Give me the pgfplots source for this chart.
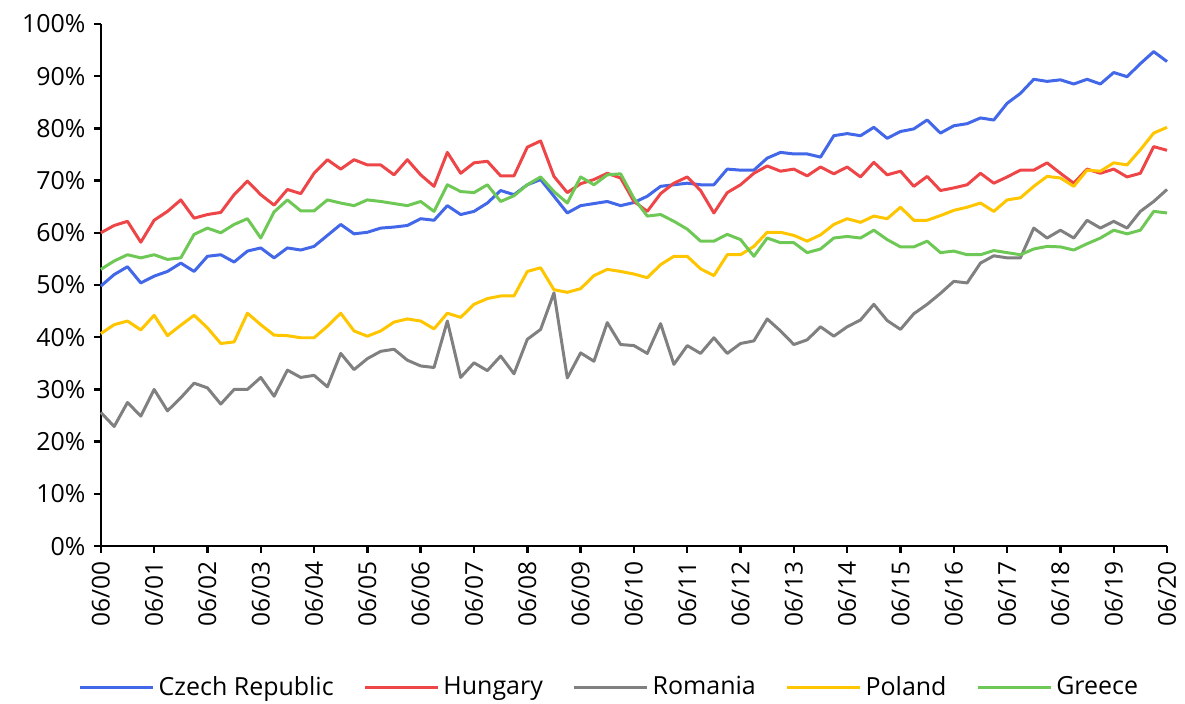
\documentclass[border=0pt]{standalone}
\usepackage{pgfplots}
\pgfplotsset{compat=1.18}
\usepackage{pgfplotstable}
\usepackage{fontspec}
\setmainfont{Open Sans}
\definecolor{czc}{RGB}{66,103,232}
\definecolor{huc}{RGB}{238,70,72}
\definecolor{roc}{RGB}{128,128,128}
\definecolor{plc}{RGB}{255,198,0}
\definecolor{grc}{RGB}{110,200,85}
\pgfplotstableread{
q cz hu ro pl gr
0 49.8 60.0 25.6 40.7 53.0
1 52.0 61.4 22.9 42.4 54.6
2 53.5 62.2 27.5 43.1 55.8
3 50.4 58.2 24.9 41.4 55.2
4 51.7 62.4 30.0 44.2 55.8
5 52.6 64.1 25.9 40.3 54.9
6 54.2 66.3 28.4 42.3 55.2
7 52.6 62.8 31.2 44.2 59.7
8 55.5 63.5 30.3 41.8 60.9
9 55.8 63.9 27.2 38.8 60.0
10 54.4 67.3 30.0 39.1 61.6
11 56.5 69.9 30.0 44.6 62.7
12 57.1 67.3 32.3 42.4 59.0
13 55.2 65.3 28.7 40.4 64.0
14 57.1 68.3 33.7 40.3 66.3
15 56.7 67.5 32.3 39.9 64.2
16 57.4 71.4 32.7 39.9 64.2
17 59.5 74.0 30.5 42.1 66.3
18 61.6 72.2 36.9 44.6 65.7
19 59.8 74.0 33.8 41.2 65.2
20 60.1 73.0 35.9 40.2 66.3
21 60.9 73.0 37.3 41.2 66.0
22 61.1 71.1 37.7 42.9 65.6
23 61.4 74.0 35.6 43.5 65.2
24 62.7 71.1 34.5 43.1 66.0
25 62.4 68.9 34.2 41.6 64.1
26 65.2 75.4 43.1 44.6 69.2
27 63.5 71.4 32.3 43.8 67.9
28 64.1 73.4 35.1 46.3 67.7
29 65.7 73.7 33.6 47.4 69.2
30 68.1 70.9 36.4 47.9 66.0
31 67.3 70.9 33.0 47.9 67.1
32 69.2 76.4 39.6 52.6 69.2
33 70.2 77.6 41.5 53.3 70.7
34 67.0 70.8 48.5 49.1 67.9
35 63.8 67.7 32.2 48.6 65.7
36 65.2 69.4 37.0 49.3 70.7
37 65.6 70.2 35.4 51.8 69.2
38 66.0 71.4 42.8 53.0 71.1
39 65.2 70.5 38.6 52.6 71.3
40 65.8 66.0 38.4 52.1 66.6
41 67.0 64.1 36.9 51.4 63.2
42 68.9 67.5 42.6 53.9 63.5
43 69.2 69.5 34.8 55.5 62.2
44 69.5 70.7 38.4 55.5 60.7
45 69.2 68.1 36.9 53.1 58.4
46 69.2 63.8 39.9 51.8 58.4
47 72.2 67.7 36.9 55.8 59.7
48 72.0 69.2 38.8 55.8 58.7
49 72.0 71.4 39.3 57.4 55.5
50 74.3 72.8 43.5 60.1 59.0
51 75.4 71.8 41.2 60.1 58.1
52 75.1 72.2 38.6 59.5 58.1
53 75.1 70.9 39.5 58.4 56.2
54 74.5 72.6 42.0 59.6 56.9
55 78.6 71.3 40.2 61.6 59.0
56 79.0 72.6 42.0 62.7 59.3
57 78.6 70.7 43.3 62.0 59.0
58 80.2 73.5 46.3 63.2 60.5
59 78.1 71.1 43.2 62.7 58.7
60 79.4 71.8 41.5 64.9 57.3
61 79.9 68.9 44.5 62.4 57.3
62 81.6 70.8 46.3 62.4 58.4
63 79.1 68.1 48.4 63.3 56.2
64 80.5 68.6 50.7 64.3 56.5
65 80.9 69.2 50.4 64.9 55.8
66 82.0 71.4 54.2 65.7 55.8
67 81.6 69.5 55.6 64.1 56.6
68 84.8 70.7 55.2 66.3 56.2
69 86.7 72.0 55.2 66.7 55.8
70 89.4 72.0 60.9 68.9 56.9
71 89.0 73.4 59.0 70.8 57.4
72 89.3 71.4 60.5 70.5 57.3
73 88.5 69.5 59.0 68.9 56.7
74 89.4 72.2 62.4 72.0 57.9
75 88.5 71.4 60.9 71.8 59.0
76 90.7 72.2 62.2 73.4 60.5
77 89.9 70.7 60.9 73.0 59.8
78 92.4 71.4 64.1 75.9 60.5
79 94.7 76.5 66.0 79.1 64.1
80 92.8 75.8 68.3 80.2 63.8
}\data
\begin{document}
\begin{tikzpicture}
\path[use as bounding box] (-50.5pt,-79pt) rectangle (543pt,273.5pt);
\begin{axis}[
  at={(0pt,0pt)}, anchor=south west,
  scale only axis, width=534pt, height=261.5pt,
  xmin=0, xmax=80, ymin=0, ymax=100,
  axis x line*=bottom, axis y line*=left,
  axis line style={line width=1.2pt, -},
  xtick={0,4,...,80},
  xticklabels={06/00,06/01,06/02,06/03,06/04,06/05,06/06,06/07,06/08,06/09,06/10,06/11,06/12,06/13,06/14,06/15,06/16,06/17,06/18,06/19,06/20},
  ytick={0,10,...,100},
  yticklabels={0\%,10\%,20\%,30\%,40\%,50\%,60\%,70\%,80\%,90\%,100\%},
  tick style={line width=1.2pt, black},
  tick align=outside,
  major tick length=3.5pt,
  xticklabel style={rotate=90, anchor=east, font=\fontsize{12.3}{14}\selectfont, inner sep=1pt, xshift=-3pt},
  yticklabel style={font=\fontsize{12.5}{14}\selectfont, inner sep=1pt, xshift=-3pt},
  legend columns=-1,
  legend style={draw=none, fill=none, at={(0.478,-0.27)}, anchor=center,
    font=\fontsize{12.5}{14}\selectfont,
    /tikz/every even column/.append style={column sep=13pt},
    /tikz/every odd column/.append style={column sep=0pt}},
  legend image code/.code={\draw[#1] (0pt,0pt) -- (36.5pt,0pt);},
  every axis plot/.append style={line width=1.5pt, line join=round},
  clip=false,
]
\addplot[czc] table[x=q,y=cz] {\data};
\addlegendentry{Czech Republic}
\addplot[huc] table[x=q,y=hu] {\data};
\addlegendentry{Hungary}
\addplot[roc] table[x=q,y=ro] {\data};
\addlegendentry{Romania}
\addplot[plc] table[x=q,y=pl] {\data};
\addlegendentry{Poland}
\addplot[grc] table[x=q,y=gr] {\data};
\addlegendentry{Greece}
\end{axis}
\end{tikzpicture}
\end{document}
